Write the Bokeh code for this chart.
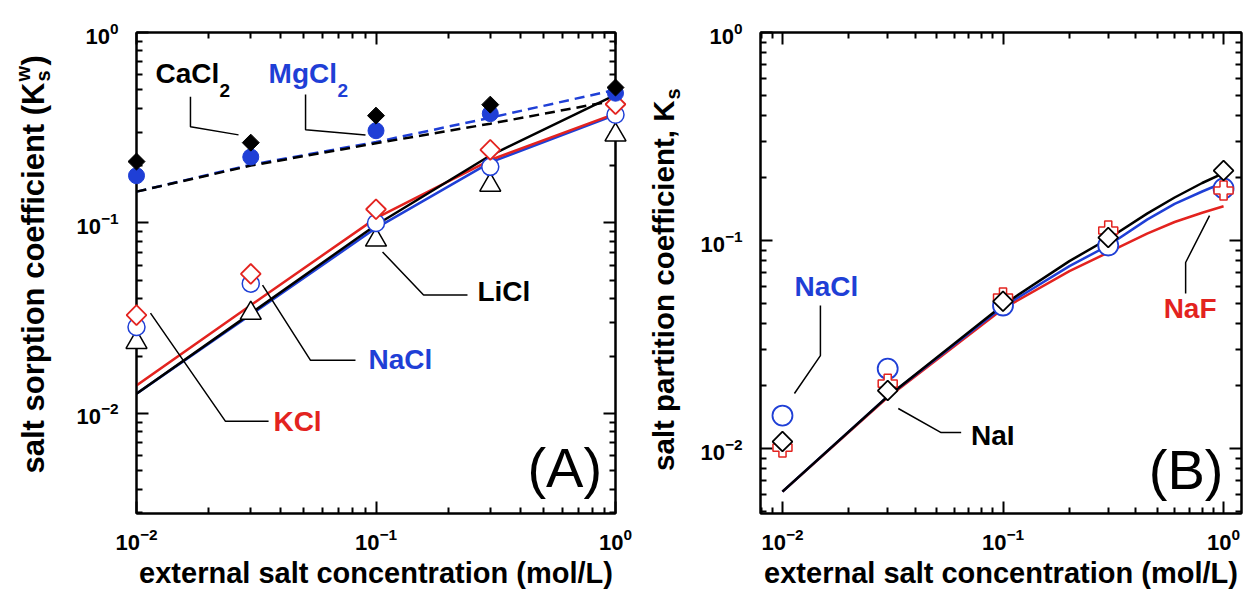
import numpy as np
from bokeh.plotting import figure
from bokeh.layouts import row
from bokeh.models import Label, Range1d, CustomJSTickFormatter, LogAxis, FixedTicker
from bokeh.embed import file_html
from bokeh.resources import INLINE

FONT = "Liberation Sans"
BLUE = "#1f3fd6"
RED = "#e3231f"

# ---------------- data ----------------
conc = [0.01, 0.03, 0.1, 0.3, 1.0]
# Panel A : salt sorption coefficient
cacl2 = [0.21, 0.264, 0.366, 0.418, 0.514]
mgcl2 = [0.177, 0.222, 0.305, 0.375, 0.48]
licl = [0.0236, 0.0336, 0.0814, 0.158, 0.29]
nacl_a = [0.0284, 0.048, 0.100, 0.197, 0.37]
kcl = [0.0328, 0.054, 0.118, 0.242, 0.42]
fit_cacl2 = [0.146, 0.200, 0.262, 0.332, 0.44]
fit_mgcl2 = [0.146, 0.202, 0.266, 0.357, 0.50]
fit_licl = [0.0127, 0.0335, 0.0976, 0.226, 0.47]
fit_nacl_a = [0.0127, 0.033, 0.094, 0.208, 0.37]
fit_kcl = [0.0140, 0.037, 0.106, 0.214, 0.375]
# Panel B : salt partition coefficient
nacl_b = [0.0144, 0.0242, 0.0487, 0.0946, 0.178]
naf = [0.0101, 0.0205, 0.0532, 0.1117, 0.174]
nai = [0.0108, 0.019, 0.051, 0.1033, 0.217]
conc_fit_b = [0.01, 0.03, 0.1, 0.2, 0.3, 0.45, 0.6, 0.8, 1.0]
fit_nai = [0.0062, 0.0178, 0.049, 0.0796, 0.102, 0.1346, 0.161, 0.189, 0.211]
fit_nacl_b = [0.0062, 0.0178, 0.048, 0.0753, 0.0946, 0.126, 0.150, 0.172, 0.190]
fit_naf = [0.0062, 0.0176, 0.047, 0.0713, 0.0876, 0.108, 0.1227, 0.136, 0.146]

# tick positions
major_ticks = [0.001, 0.01, 0.1, 1.0]
minor_ticks = [m * 10.0 ** e for e in range(-3, 1) for m in range(2, 10)]

# annotation leader lines (data coordinates)
lead_a = [
    ([0.0168, 0.0168, 0.02667], [0.460, 0.320, 0.290]),
    ([0.0508, 0.0508, 0.0904], [0.472, 0.3087, 0.290]),
    ([0.1065, 0.158, 0.241], [0.0704, 0.0418, 0.0418]),
    ([0.0336, 0.0533, 0.0821], [0.0472, 0.0190, 0.0190]),
    ([0.01144, 0.02353, 0.0356], [0.0336, 0.00908, 0.00908]),
]
lead_b = [
    ([0.01486, 0.01486, 0.01133], [0.0487, 0.02797, 0.01838]),
    ([0.0335, 0.0524, 0.0646], [0.01557, 0.01193, 0.01193]),
    ([0.673, 0.673, 0.864], [0.0556, 0.0784, 0.1318]),
]


def style_axis(ax, labels=True, standoff=14):
    ax.ticker = FixedTicker(ticks=major_ticks, minor_ticks=minor_ticks)
    ax.axis_line_width = 2
    ax.axis_line_color = "black"
    ax.major_tick_in = 12
    ax.major_tick_out = 0
    ax.minor_tick_in = 6
    ax.minor_tick_out = 0
    ax.major_tick_line_width = 2
    ax.minor_tick_line_width = 2
    ax.major_tick_line_color = "black"
    ax.minor_tick_line_color = "black"
    ax.major_label_text_font = FONT
    ax.major_label_text_font_style = "bold"
    ax.major_label_text_font_size = "22px"
    ax.major_label_text_color = "black"
    ax.major_label_standoff = standoff
    ax.axis_label_text_font = FONT
    ax.axis_label_text_font_style = "bold"
    ax.axis_label_text_font_size = "29px"
    ax.axis_label_text_color = "black"
    ax.axis_label_standoff = 4
    if not labels:
        ax.formatter = CustomJSTickFormatter(code="return ''")
        ax.major_label_standoff = 0


def make_fig(xr, yr, left, right, fw):
    p = figure(x_axis_type="log", y_axis_type="log",
               x_range=Range1d(*xr), y_range=Range1d(*yr),
               frame_width=fw, frame_height=481,
               min_border_left=left, min_border_right=right,
               min_border_top=32, min_border_bottom=76,
               output_backend="svg", toolbar_location=None)
    p.grid.visible = False
    p.outline_line_color = "black"
    p.outline_line_width = 2
    p.background_fill_color = "white"
    p.border_fill_color = "white"
    style_axis(p.xaxis[0], standoff=14)
    style_axis(p.yaxis[0], standoff=18)
    p.xaxis[0].axis_label = "external salt concentration (mol/L)"
    top = LogAxis()
    rgt = LogAxis()
    style_axis(top, False)
    style_axis(rgt, False)
    p.add_layout(top, "above")
    p.add_layout(rgt, "right")
    return p


def label_fig(w):
    f = figure(width=w, height=596, x_range=Range1d(0, 1), y_range=Range1d(0, 1),
               min_border=0, x_axis_type=None, y_axis_type=None,
               output_backend="svg", toolbar_location=None)
    f.outline_line_color = None
    f.grid.visible = False
    f.background_fill_color = "white"
    f.border_fill_color = "white"
    return f


def lab(p, text, x, y, size, color="black", style="bold", align="left",
        baseline="middle", angle=0.0, units="data"):
    p.add_layout(Label(x=x, y=y, x_units=units, y_units=units, text=text,
                       text_font=FONT, text_font_size=f"{size}px",
                       text_font_style=style, text_color=color,
                       text_align=align, text_baseline=baseline, angle=angle))


# ---------------- y-title strip A (frame aligned with panel frames) ----------------
la = label_fig(70)
lab(la, "salt sorption coefficient (K", 33, 436, 31, units="screen", align="right", angle=np.pi / 2)
lab(la, "s", 42, 437, 20, units="screen", angle=np.pi / 2)
lab(la, "w", 22, 437, 20, units="screen", angle=np.pi / 2)
lab(la, ")", 33, 453, 31, units="screen", angle=np.pi / 2)

# ---------------- Panel A ----------------
pa = make_fig((0.01, 1.0), (0.00298, 1.0), 66, 32, 479)

pa.line(conc, fit_mgcl2, line_color=BLUE, line_width=2.5, line_dash="10 6")
pa.line(conc, fit_cacl2, line_color="black", line_width=2.5, line_dash="10 6")
pa.line(conc, fit_nacl_a, line_color=BLUE, line_width=2.5)
pa.line(conc, fit_kcl, line_color=RED, line_width=2.5)
pa.line(conc, fit_licl, line_color="black", line_width=2.5)

for xs, ys in lead_a:
    pa.line(xs, ys, line_color="black", line_width=1.5)

pa.scatter(conc, licl, marker="triangle", size=21, fill_color="white",
           line_color="black", line_width=1.5, level="overlay")
pa.scatter(conc, nacl_a, marker="circle", size=17, fill_color="white",
           line_color=BLUE, line_width=1.5, level="overlay")
pa.scatter(conc, kcl, marker="square", angle=np.pi / 4, size=14, fill_color="white",
           line_color=RED, line_width=1.8, level="overlay")
pa.scatter(conc, mgcl2, marker="circle", size=16, fill_color=BLUE,
           line_color=BLUE, level="overlay")
pa.scatter(conc, cacl2, marker="square", angle=np.pi / 4, size=12, fill_color="black",
           line_color="black", level="overlay")

lab(pa, "CaCl", 0.012, 0.608, 28)
lab(pa, "2", 0.0222, 0.495, 19)
lab(pa, "MgCl", 0.0356, 0.608, 28, color=BLUE)
lab(pa, "2", 0.069, 0.495, 19, color=BLUE)
lab(pa, "LiCl", 0.2653, 0.0439, 28)
lab(pa, "NaCl", 0.0930, 0.01923, 28, color=BLUE)
lab(pa, "KCl", 0.0373, 0.00908, 28, color=RED)
lab(pa, "(A)", 0.429, 0.0052, 56, style="normal")

# ---------------- y-title strip B ----------------
lb = label_fig(50)
lab(lb, "salt partition coefficient, K", 16, 418, 29.5, units="screen", align="right", angle=np.pi / 2)
lab(lb, "s", 25, 419, 20, units="screen", angle=np.pi / 2)

# ---------------- Panel B ----------------
pb = make_fig((0.00795, 1.206), (0.00487, 1.0), 62, 7, 481)

pb.line(conc_fit_b, fit_naf, line_color=RED, line_width=2.5)
pb.line(conc_fit_b, fit_nacl_b, line_color=BLUE, line_width=2.5)
pb.line(conc_fit_b, fit_nai, line_color="black", line_width=2.5)

for xs, ys in lead_b:
    pb.line(xs, ys, line_color="black", line_width=1.5)

pb.scatter(conc, nacl_b, marker="circle", size=20, fill_color="white",
           line_color=BLUE, line_width=1.8, level="overlay")
pb.scatter(conc, naf, marker="plus", size=19, fill_color="white",
           line_color=RED, line_width=1.5, level="overlay")
pb.scatter(conc, nai, marker="square", angle=np.pi / 4, size=14, fill_color="white",
           line_color="black", line_width=1.8, level="overlay")

lab(pb, "NaCl", 0.01133, 0.0601, 28, color=BLUE)
lab(pb, "NaI", 0.0716, 0.01155, 28)
lab(pb, "NaF", 0.535, 0.0471, 28, color=RED)
lab(pb, "(B)", 0.458, 0.00793, 56, style="normal")

layout = row(la, pa, lb, pb)
open("out.html", "w").write(file_html(layout, INLINE))
